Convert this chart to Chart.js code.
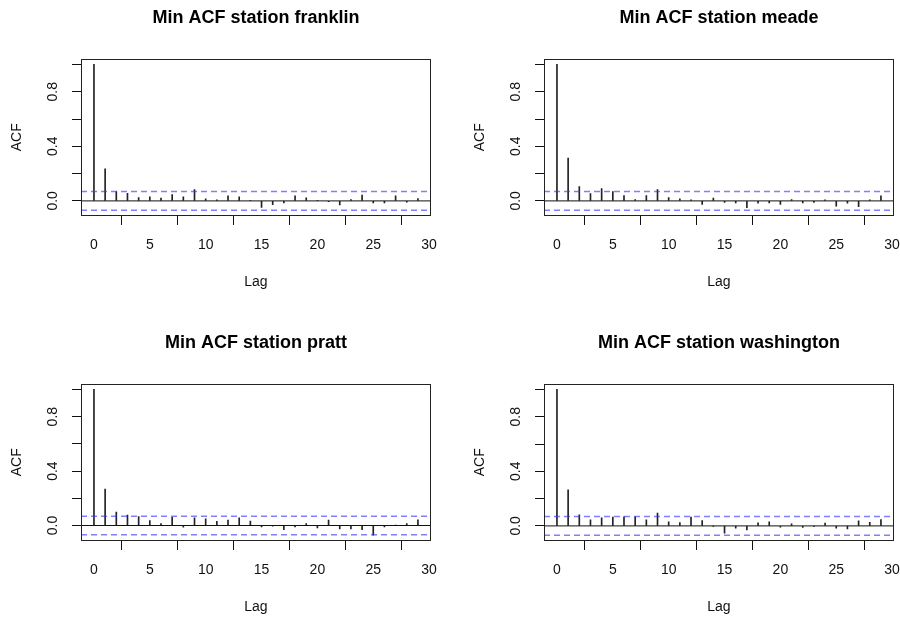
<!DOCTYPE html>
<html>
<head>
<meta charset="utf-8">
<script src="https://cdn.jsdelivr.net/npm/chart.js@4.4.0/dist/chart.umd.min.js"></script>
<style>
body { margin: 0; background: #fff; width: 900px; height: 619px; position: relative; overflow: hidden; }
canvas { position: absolute; }
</style>
</head>
<body>
<canvas id="c1" width="449" height="294" style="left:0;top:0"></canvas>
<canvas id="c2" width="449" height="294" style="left:463px;top:0"></canvas>
<canvas id="c3" width="449" height="294" style="left:0;top:325px"></canvas>
<canvas id="c4" width="449" height="294" style="left:463px;top:325px"></canvas>
<script>
// lags 0..29, autocorrelations
var lags = [0,1,2,3,4,5,6,7,8,9,10,11,12,13,14,15,16,17,18,19,20,21,22,23,24,25,26,27,28,29];
var xTicks = [0,5,10,15,20,25,30];
var yTicks = [0,0.2,0.4,0.6,0.8,1.0];
var yTickLabels = ['0.0','','0.4','','0.8',''];
var ciBound = 0.068;

var acfFranklin = [1.0,0.235,0.069,0.056,0.025,0.030,0.020,0.047,0.030,0.083,0.015,0.007,0.037,0.030,0.005,-0.047,-0.027,-0.015,0.037,0.022,0.005,-0.005,-0.030,0.010,0.042,-0.015,-0.015,0.037,-0.010,0.017];
var acfMeade = [1.0,0.314,0.105,0.054,0.091,0.069,0.039,0.010,0.039,0.083,0.025,0.015,0.007,-0.025,0.020,-0.012,-0.015,-0.049,-0.017,-0.015,-0.025,0.010,-0.015,-0.012,0.007,-0.039,-0.017,-0.042,0.007,0.037];
var acfPratt = [1.0,0.267,0.098,0.076,0.066,0.037,0.015,0.061,-0.012,0.056,0.049,0.030,0.039,0.056,0.032,-0.010,-0.005,-0.030,-0.010,0.015,-0.017,0.039,-0.025,-0.025,-0.030,-0.071,-0.010,0.001,0.015,0.042];
var acfWashington = [1.0,0.265,0.081,0.044,0.059,0.064,0.066,0.066,0.044,0.093,0.030,0.025,0.064,0.039,-0.002,-0.054,-0.017,-0.030,0.022,0.030,-0.010,0.015,-0.012,-0.002,0.020,-0.017,-0.022,0.037,0.027,0.047];

Chart.defaults.font.family = '"Liberation Sans", Arial, Helvetica, sans-serif';
Chart.defaults.color = '#111';

var boxPlugin = {
  id: 'box',
  afterDatasetsDraw: function(chart) {
    var a = chart.chartArea, c = chart.ctx;
    c.save();
    c.strokeStyle = '#222';
    c.lineWidth = 1;
    c.strokeRect(Math.round(a.left) + 0.5, Math.round(a.top) + 0.5, Math.round(a.right - a.left) - 1, Math.round(a.bottom - a.top) - 1);
    c.restore();
  }
};

function buildAcf(id, title, acf)
{
  var lo = Math.min(-ciBound, Math.min.apply(null, acf));
  var yPad = (1 - lo) * 0.04;
  var xPad = lags[lags.length - 1] * 0.04;
  var xMin = -xPad, xMax = lags[lags.length - 1] + xPad;
  var stems = [];
  for (var i = 0; i < lags.length; i++)
  {
    stems.push({x: lags[i], y: acf[i]});
  }
  new Chart(document.getElementById(id), {
    type: 'bar',
    data: {
      datasets: [
        {
          type: 'line',
          data: [{x: xMin, y: ciBound}, {x: xMax, y: ciBound}],
          borderColor: 'rgba(50,50,255,0.62)',
          borderWidth: 1.5,
          borderDash: [6, 4],
          pointRadius: 0
        },
        {
          type: 'line',
          data: [{x: xMin, y: -ciBound}, {x: xMax, y: -ciBound}],
          borderColor: 'rgba(50,50,255,0.62)',
          borderWidth: 1.5,
          borderDash: [6, 4],
          pointRadius: 0
        },
        {
          type: 'line',
          data: [{x: xMin, y: 0}, {x: xMax, y: 0}],
          borderColor: '#111',
          borderWidth: 1,
          pointRadius: 0
        },
        {
          data: stems,
          backgroundColor: '#222',
          barThickness: 1
        }
      ]
    },
    options: {
      responsive: false,
      animation: false,
      layout: { padding: { left: 0, right: 0, top: 0, bottom: 0 } },
      plugins: {
        legend: { display: false },
        tooltip: { enabled: false },
        title: {
          display: true,
          text: title,
          fullSize: false,
          color: '#000',
          font: { size: 18, weight: 'bold' },
          padding: { top: 7, bottom: 30 }
        }
      },
      scales: {
        x: {
          type: 'linear',
          min: xMin,
          max: xMax,
          offset: false,
          afterBuildTicks: function(s) { s.ticks = xTicks.map(function(v) { return {value: v}; }); },
          afterFit: function(s) { s.height = 78; },
          grid: { drawOnChartArea: false, drawTicks: true, tickLength: 9, tickColor: '#111' },
          border: { display: false },
          ticks: { font: { size: 14 }, padding: 12, maxRotation: 0, autoSkip: false },
          title: { display: true, text: 'Lag', font: { size: 14 }, padding: { top: 0, bottom: 3 } }
        },
        y: {
          min: lo - yPad,
          max: 1 + yPad,
          afterBuildTicks: function(s) { s.ticks = yTicks.map(function(v) { return {value: v}; }); },
          afterFit: function(s) { s.width = 81; },
          grid: { drawOnChartArea: false, drawTicks: true, tickLength: 9, tickColor: '#111' },
          border: { display: false },
          ticks: {
            font: { size: 14 },
            padding: 9,
            minRotation: 90,
            maxRotation: 90,
            crossAlign: 'center',
            autoSkip: false,
            callback: function(v, idx) { return yTickLabels[idx]; }
          },
          title: { display: true, text: 'ACF', font: { size: 14 }, padding: { top: 9, bottom: 0 } }
        }
      }
    },
    plugins: [boxPlugin]
  });
}

buildAcf('c1', 'Min ACF station franklin', acfFranklin);
buildAcf('c2', 'Min ACF station meade', acfMeade);
buildAcf('c3', 'Min ACF station pratt', acfPratt);
buildAcf('c4', 'Min ACF station washington', acfWashington);
</script>
</body>
</html>
